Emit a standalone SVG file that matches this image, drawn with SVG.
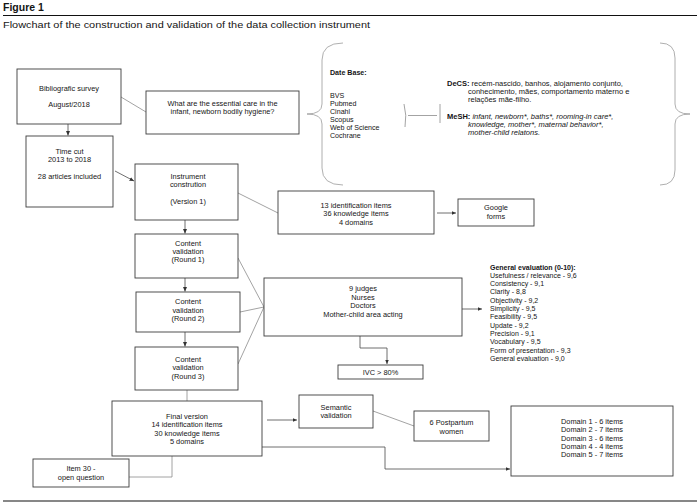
<svg xmlns="http://www.w3.org/2000/svg" width="700" height="504" viewBox="0 0 700 504">
<style>
  .bg{fill:#ffffff}
  .box{fill:#ffffff;stroke:#3c3c3c;stroke-width:0.9}
  .con{fill:none;stroke:#8c8c8c;stroke-width:0.8}
  .arr{fill:none;stroke:#4a4a4a;stroke-width:0.8}
  .brace{fill:none;stroke:#9a9a9a;stroke-width:0.8}
  .rule{stroke:#111;stroke-width:1.1}
  text{font-family:"Liberation Sans",Arial,sans-serif;fill:#151515}
  .t{font-size:7.4px;text-anchor:middle}
  .l{font-size:7.1px}
  .d{font-size:7.5px}
  .s{font-size:7px}
  .b{font-weight:bold}
  .i{font-style:italic}
</style>
<defs>
  <marker id="ah" markerUnits="userSpaceOnUse" markerWidth="5" markerHeight="4" refX="4.5" refY="2" orient="auto">
    <path d="M0,0 L4.5,2 L0,4 Z" fill="#333"/>
  </marker>
</defs>
<rect class="bg" x="0" y="0" width="700" height="504"/>

<g id="header">
  <text x="3" y="11" style="font-size:10.5px;font-weight:bold">Figure 1</text>
  <line class="rule" x1="3" y1="15.5" x2="697" y2="15.5"/>
  <text x="3" y="28" style="font-size:8.6px" textLength="367" lengthAdjust="spacingAndGlyphs">Flowchart of the construction and validation of the data collection instrument</text>
  <line class="rule" x1="3" y1="501" x2="697" y2="501"/>
</g>

<g id="connectors">
  <line class="con" x1="121" y1="97" x2="146" y2="112"/>
  <line class="arr" x1="68" y1="124" x2="68" y2="135.5" marker-end="url(#ah)"/>
  <line class="arr" x1="115" y1="171" x2="134" y2="181" marker-end="url(#ah)"/>
  <line class="con" x1="238" y1="193" x2="278" y2="213"/>
  <line class="arr" x1="437" y1="213" x2="456" y2="213" marker-end="url(#ah)"/>
  <line class="arr" x1="185" y1="220" x2="185" y2="233.5" marker-end="url(#ah)"/>
  <line class="arr" x1="185" y1="278" x2="185" y2="291.5" marker-end="url(#ah)"/>
  <line class="arr" x1="185" y1="332" x2="185" y2="346.5" marker-end="url(#ah)"/>
  <line class="con" x1="238" y1="258" x2="264" y2="307"/>
  <line class="con" x1="240" y1="312" x2="264" y2="307"/>
  <line class="con" x1="238" y1="364" x2="264" y2="307"/>
  <line class="arr" x1="462" y1="309" x2="482" y2="309" marker-end="url(#ah)"/>
  <polyline class="arr" points="360,336 360,348 387,348 387,364" marker-end="url(#ah)"/>
  <line class="con" x1="187" y1="390" x2="187" y2="401"/>
  <line class="arr" x1="267" y1="420" x2="297" y2="420" marker-end="url(#ah)"/>
  <line class="con" x1="373" y1="411" x2="414" y2="426"/>
  <polyline class="arr" points="262,447 385,447 385,469 510,469" marker-end="url(#ah)"/>
  <polyline class="con" points="172,456 172,477 129,477"/>
  <path class="con" d="M404,104 Q407,115 405,127"/>
  <line class="con" x1="408" y1="115.5" x2="437" y2="115.5"/>
  <line class="con" x1="440" y1="104" x2="440" y2="123"/>
</g>

<g id="braces">
  <path class="brace" d="M343,43 Q322,43 322,60 L322,104 Q322,114 307,114 Q322,114 322,124 L322,168 Q322,185 343,185"/>
  <path class="brace" d="M660,43 Q675,43 675,58 L675,104 Q675,114 690,114 Q675,114 675,124 L675,170 Q675,185 660,185"/>
</g>

<g id="bibliographic-survey">
  <rect class="box" x="17" y="69" width="104" height="55"/>
  <text class="t" x="69" y="90.5">Bibliografic survey</text>
  <text class="t" x="69" y="106.5">August/2018</text>
</g>

<g id="question">
  <rect class="box" x="146" y="91" width="153" height="43"/>
  <text class="t" x="222.5" y="105.5">What are the essential care in the</text>
  <text class="t" x="222.5" y="114">infant, newborn bodily hygiene?</text>
</g>

<g id="databases">
  <text class="l b" x="330" y="74.5">Date Base:</text>
  <text class="l" x="330" y="98">BVS</text>
  <text class="l" x="330" y="106">Pubmed</text>
  <text class="l" x="330" y="114">Cinahl</text>
  <text class="l" x="330" y="122">Scopus</text>
  <text class="l" x="330" y="130">Web of Science</text>
  <text class="l" x="330" y="138">Cochrane</text>
</g>

<g id="descriptors">
  <text class="d" x="447" y="85.5"><tspan class="b">DeCS:</tspan> recém-nascido, banhos, alojamento conjunto,</text>
  <text class="d" x="468" y="93.5">conhecimento, mães, comportamento materno e</text>
  <text class="d" x="468" y="101.5">relações mãe-filho.</text>
  <text class="d" x="447" y="118.5"><tspan class="b">MeSH:</tspan> <tspan class="i">infant, newborn*, baths*, rooming-in care*,</tspan></text>
  <text class="d i" x="468" y="126.5">knowledge, mother*, maternal behavior*,</text>
  <text class="d i" x="468" y="134.5">mother-child relatons.</text>
</g>

<g id="time-cut">
  <rect class="box" x="26" y="136" width="87" height="71"/>
  <text class="t" x="69.5" y="153.5">Time cut</text>
  <text class="t" x="69.5" y="161.5">2013 to 2018</text>
  <text class="t" x="69.5" y="178.5">28 articles included</text>
</g>

<g id="instrument-construction">
  <rect class="box" x="135" y="164" width="103" height="56"/>
  <text class="t" x="188" y="178.5">Instrument</text>
  <text class="t" x="188" y="186.5">constrution</text>
  <text class="t" x="188" y="203.5">(Version 1)</text>
</g>

<g id="items-v1">
  <rect class="box" x="278" y="191" width="156" height="43"/>
  <text class="t" x="356" y="207.5">13 identification items</text>
  <text class="t" x="356" y="216">36 knowledge items</text>
  <text class="t" x="356" y="224.5">4 domains</text>
</g>

<g id="google-forms">
  <rect class="box" x="458" y="199" width="76" height="27"/>
  <text class="t" x="496" y="210">Google</text>
  <text class="t" x="496" y="219">forms</text>
</g>

<g id="round1">
  <rect class="box" x="135" y="234" width="103" height="44"/>
  <text class="t" x="188" y="245.5">Content</text>
  <text class="t" x="188" y="253.5">validation</text>
  <text class="t" x="188" y="262">(Round 1)</text>
</g>

<g id="round2">
  <rect class="box" x="136" y="292" width="104" height="40"/>
  <text class="t" x="188" y="304">Content</text>
  <text class="t" x="188" y="312.5">validation</text>
  <text class="t" x="188" y="320.5">(Round 2)</text>
</g>

<g id="round3">
  <rect class="box" x="135" y="347" width="103" height="43"/>
  <text class="t" x="188" y="361.5">Content</text>
  <text class="t" x="188" y="370">validation</text>
  <text class="t" x="188" y="378.5">(Round 3)</text>
</g>

<g id="judges">
  <rect class="box" x="264" y="278" width="198" height="58"/>
  <text class="t" x="363" y="291">9 judges</text>
  <text class="t" x="363" y="299.5">Nurses</text>
  <text class="t" x="363" y="308">Doctors</text>
  <text class="t" x="363" y="317">Mother-child area acting</text>
</g>

<g id="general-evaluation">
  <text class="s b" x="490" y="269.5">General evaluation (0-10):</text>
  <text class="s" x="490" y="277.8">Usefulness / relevance - 9,6</text>
  <text class="s" x="490" y="286.1">Consistency - 9,1</text>
  <text class="s" x="490" y="294.4">Clarity - 8,8</text>
  <text class="s" x="490" y="302.7">Objectivity - 9,2</text>
  <text class="s" x="490" y="311">Simplicity - 9,5</text>
  <text class="s" x="490" y="319.3">Feasibility - 9,5</text>
  <text class="s" x="490" y="327.6">Update - 9,2</text>
  <text class="s" x="490" y="335.9">Precision - 9,1</text>
  <text class="s" x="490" y="344.2">Vocabulary - 9,5</text>
  <text class="s" x="490" y="352.5">Form of presentation - 9,3</text>
  <text class="s" x="490" y="360.8">General evaluation - 9,0</text>
</g>

<g id="ivc">
  <rect class="box" x="338" y="365" width="85" height="14"/>
  <text class="t" x="380.5" y="374.5">IVC &gt; 80%</text>
</g>

<g id="final-version">
  <rect class="box" x="112" y="401" width="150" height="55"/>
  <text class="t" x="187" y="418.5">Final version</text>
  <text class="t" x="187" y="427">14 identification items</text>
  <text class="t" x="187" y="435.5">30 knowledge items</text>
  <text class="t" x="187" y="443.5">5 domains</text>
</g>

<g id="item30">
  <rect class="box" x="33" y="459" width="96" height="28"/>
  <text class="t" x="81" y="470.5">Item 30 -</text>
  <text class="t" x="81" y="479.5">open question</text>
</g>

<g id="semantic-validation">
  <rect class="box" x="299" y="395" width="74" height="33"/>
  <text class="t" x="336" y="409.5">Semantic</text>
  <text class="t" x="336" y="417.5">validation</text>
</g>

<g id="postpartum">
  <rect class="box" x="414" y="411" width="75" height="30"/>
  <text class="t" x="451.5" y="424.5">6 Postpartum</text>
  <text class="t" x="451.5" y="433.5">women</text>
</g>

<g id="domains">
  <rect class="box" x="511" y="406" width="162" height="70"/>
  <text class="t" x="592" y="423.5">Domain 1 - 6 items</text>
  <text class="t" x="592" y="432">Domain 2 - 7 items</text>
  <text class="t" x="592" y="440.5">Domain 3 - 6 items</text>
  <text class="t" x="592" y="448.5">Domain 4 - 4 items</text>
  <text class="t" x="592" y="457">Domain 5 - 7 items</text>
</g>
</svg>
